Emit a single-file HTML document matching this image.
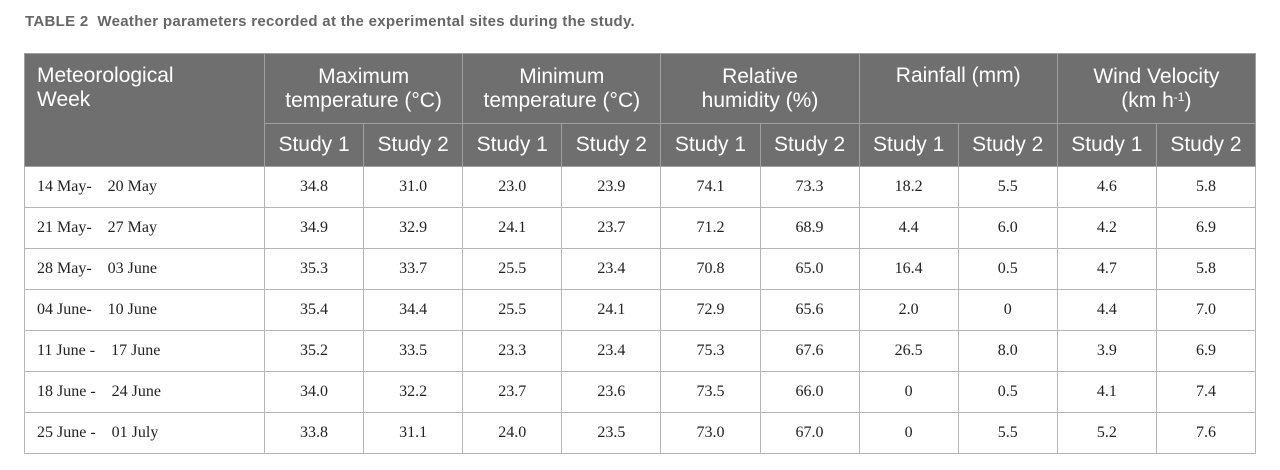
<!DOCTYPE html>
<html><head><style>
body{margin:0;background:#fff;width:1280px;height:470px;overflow:hidden;font-family:"Liberation Sans",sans-serif;}
.t{position:absolute;left:25px;top:13px;font-size:15px;font-weight:bold;color:#666;letter-spacing:0.3px}
table{position:absolute;left:24px;top:53px;border-collapse:collapse;table-layout:fixed;width:1231px}
th{background:#6f6f6f;color:#fff;font-weight:normal;font-size:21px;line-height:24px;border:1px solid #a0a0a0;padding:0}
td{font-family:"Liberation Serif",serif;font-size:16px;color:#222;text-align:center;border:1px solid #b5b5b5;height:40px;padding:0}
td:first-child{text-align:left;padding-left:12px}
sup{font-size:12px;line-height:0;vertical-align:6px}
</style></head><body>
<div class="t">TABLE 2&nbsp;&nbsp;Weather parameters recorded at the experimental sites during the study.</div>
<table>
<colgroup><col style="width:240px"><col span="10" style="width:99.1px"></colgroup>
<tr style="height:70px"><th rowspan="2" style="text-align:left;vertical-align:top;padding:10px 12px 0">Meteorological<br>Week</th><th colspan="2">Maximum<br>temperature (°C)</th><th colspan="2">Minimum<br>temperature (°C)</th><th colspan="2">Relative<br>humidity (%)</th><th colspan="2" style="vertical-align:top;padding-top:10px">Rainfall (mm)</th><th colspan="2">Wind Velocity<br>(km h<sup>-1</sup>)</th></tr>
<tr style="height:43px"><th>Study 1</th><th>Study 2</th><th>Study 1</th><th>Study 2</th><th>Study 1</th><th>Study 2</th><th>Study 1</th><th>Study 2</th><th>Study 1</th><th>Study 2</th></tr>
<tr><td>14 May-&nbsp;&nbsp;&nbsp; 20 May</td><td>34.8</td><td>31.0</td><td>23.0</td><td>23.9</td><td>74.1</td><td>73.3</td><td>18.2</td><td>5.5</td><td>4.6</td><td>5.8</td></tr>
<tr><td>21 May-&nbsp;&nbsp;&nbsp; 27 May</td><td>34.9</td><td>32.9</td><td>24.1</td><td>23.7</td><td>71.2</td><td>68.9</td><td>4.4</td><td>6.0</td><td>4.2</td><td>6.9</td></tr>
<tr><td>28 May-&nbsp;&nbsp;&nbsp; 03 June</td><td>35.3</td><td>33.7</td><td>25.5</td><td>23.4</td><td>70.8</td><td>65.0</td><td>16.4</td><td>0.5</td><td>4.7</td><td>5.8</td></tr>
<tr><td>04 June-&nbsp;&nbsp;&nbsp; 10 June</td><td>35.4</td><td>34.4</td><td>25.5</td><td>24.1</td><td>72.9</td><td>65.6</td><td>2.0</td><td>0</td><td>4.4</td><td>7.0</td></tr>
<tr><td>11 June -&nbsp;&nbsp;&nbsp; 17 June</td><td>35.2</td><td>33.5</td><td>23.3</td><td>23.4</td><td>75.3</td><td>67.6</td><td>26.5</td><td>8.0</td><td>3.9</td><td>6.9</td></tr>
<tr><td>18 June -&nbsp;&nbsp;&nbsp; 24 June</td><td>34.0</td><td>32.2</td><td>23.7</td><td>23.6</td><td>73.5</td><td>66.0</td><td>0</td><td>0.5</td><td>4.1</td><td>7.4</td></tr>
<tr><td>25 June -&nbsp;&nbsp;&nbsp; 01 July</td><td>33.8</td><td>31.1</td><td>24.0</td><td>23.5</td><td>73.0</td><td>67.0</td><td>0</td><td>5.5</td><td>5.2</td><td>7.6</td></tr>
</table>
</body></html>
